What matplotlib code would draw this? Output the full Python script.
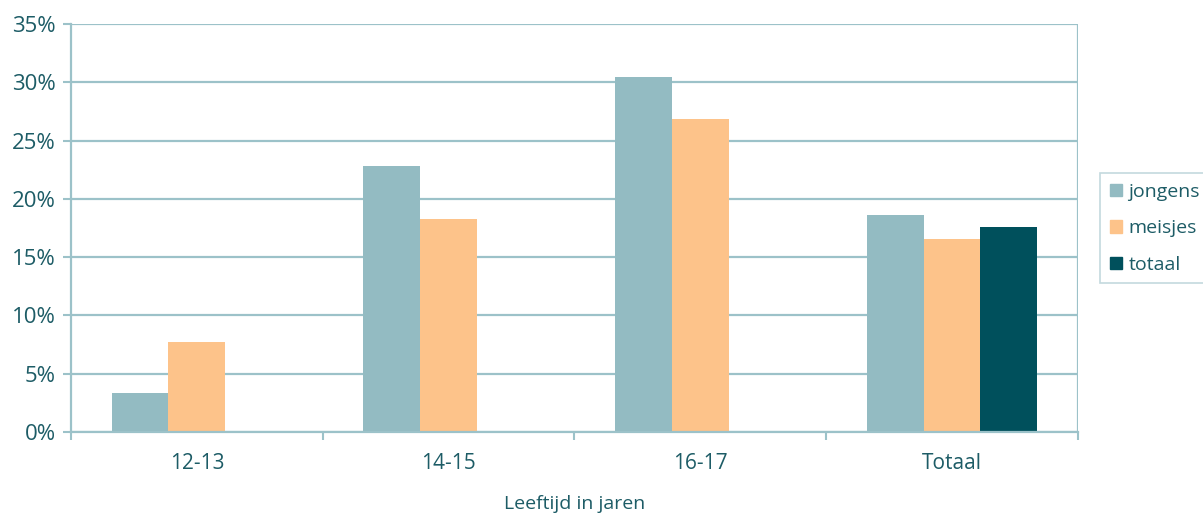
import matplotlib.pyplot as plt
import matplotlib.patches as mpatches
import numpy as np

# Data (percentages)
categories = ['12-13', '14-15', '16-17', 'Totaal']
jongens = [3.35, 22.8, 30.45, 18.6]
meisjes = [7.7, 18.3, 26.85, 16.55]
totaal = [0, 0, 0, 17.6]
y_ticks = [0, 5, 10, 15, 20, 25, 30, 35]

c_jongens = '#93bbc2'
c_meisjes = '#fdc38a'
c_totaal = '#00505c'
c_text = '#1d5c66'
c_grid = '#9cc2c9'

plt.rcParams['font.family'] = ['Open Sans', 'DejaVu Sans']

fig = plt.figure(figsize=(12.03, 5.16), dpi=100)
ax = fig.add_axes([0.059, 0.163, 0.837, 0.7905])

x = np.arange(len(categories))
w = 0.226
ax.bar(x - w, jongens, w, color=c_jongens, zorder=3)
ax.bar(x, meisjes, w, color=c_meisjes, zorder=3)
ax.bar(x + w, totaal, w, color=c_totaal, zorder=3)

ax.set_xlim(-0.5, len(categories) - 0.5)
ax.set_ylim(0, 35)

# horizontal gridlines
for t in y_ticks:
    ax.axhline(t, color=c_grid, lw=1.6, zorder=1)
ax.axvline(len(categories) - 0.5, color=c_grid, lw=1.6, zorder=1)

ax.set_yticks(y_ticks)
ax.set_yticklabels([f'{t}%' for t in y_ticks])
ax.tick_params(axis='y', length=6, width=1.5, color=c_grid, labelcolor=c_text,
               labelsize=16, pad=5)

# category boundaries as major ticks, labels on minor ticks
ax.set_xticks(np.arange(-0.5, len(categories)))
ax.set_xticklabels([])
ax.set_xticks(x, minor=True)
ax.set_xticklabels(categories, minor=True)
ax.tick_params(axis='x', which='major', length=6, width=1.5, color=c_grid)
ax.tick_params(axis='x', which='minor', length=0, labelcolor=c_text,
               labelsize=15, pad=15)

for s in ['top', 'right']:
    ax.spines[s].set_visible(False)
for s in ['left', 'bottom']:
    ax.spines[s].set_color(c_grid)
    ax.spines[s].set_linewidth(1.6)
    ax.spines[s].set_zorder(4)

ax.set_xlabel('Leeftijd in jaren', color=c_text, fontsize=14, labelpad=15)

handles = [mpatches.Patch(color=c_jongens, label='jongens'),
           mpatches.Patch(color=c_meisjes, label='meisjes'),
           mpatches.Patch(color=c_totaal, label='totaal')]
leg = fig.legend(handles=handles, loc='upper left',
                 bbox_to_anchor=(1100 / 1203, 1 - 173 / 516),
                 borderaxespad=0, frameon=True, fancybox=False, fontsize=14,
                 handlelength=0.62, handleheight=0.62, handletextpad=0.34,
                 labelspacing=0.95, borderpad=0.5)
leg.get_frame().set_edgecolor('#b5d0d5')
leg.get_frame().set_linewidth(1.2)
for t in leg.get_texts():
    t.set_color(c_text)

fig.savefig('out.png', dpi=100)
